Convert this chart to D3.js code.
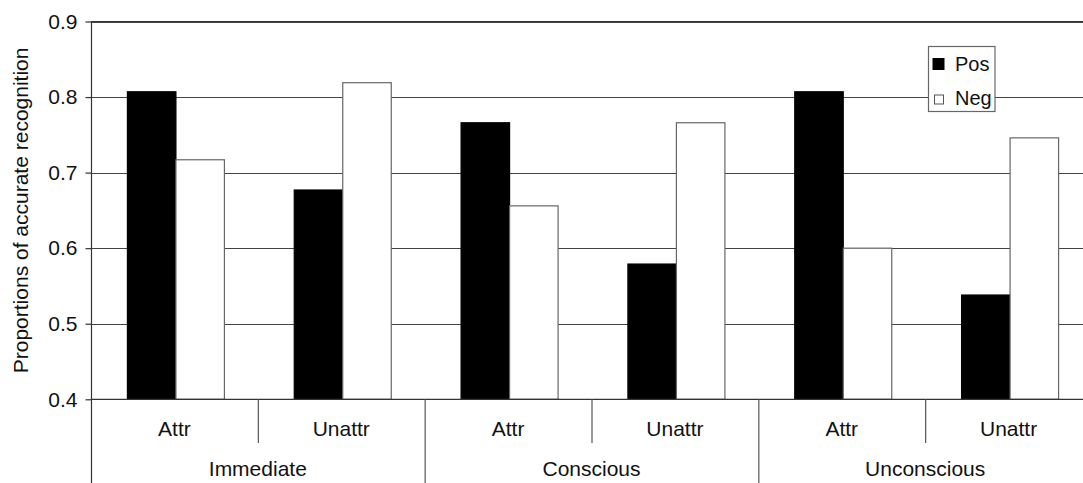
<!DOCTYPE html>
<html>
<head>
<meta charset="utf-8">
<script src="https://cdn.jsdelivr.net/npm/d3@7"></script>
<style>
  html, body { margin: 0; padding: 0; background: #fff; }
  svg { display: block; font-family: "Liberation Sans", Arial, sans-serif; }
</style>
</head>
<body>
<svg id="chart" width="1083" height="483"></svg>
<script>
// ---- data ----
const groups = ["Immediate", "Conscious", "Unconscious"];
const subcats = ["Attr", "Unattr"];
const seriesNames = ["Pos", "Neg"];
const posValues = [0.807, 0.677, 0.766, 0.579, 0.807, 0.538];
const negValues = [0.717, 0.819, 0.656, 0.766, 0.600, 0.746];
const yTicks = [0.4, 0.5, 0.6, 0.7, 0.8, 0.9];
const yTitle = "Proportions of accurate recognition";

(function () {
// ---- layout ----
const svg = d3.select("#chart");
const pLeft = 91, pRight = 1092, pTop = 21.5, pBottom = 399.3;
const fontSize = 21;

const cats = [];
groups.forEach(g => subcats.forEach(s => cats.push({ group: g, sub: s, key: g + "|" + s })));
cats.forEach((c, i) => { c.Pos = posValues[i]; c.Neg = negValues[i]; });

const x0 = d3.scaleBand().domain(cats.map(c => c.key)).range([pLeft, pRight]).padding(0);
const x1 = d3.scaleBand().domain(seriesNames)
  .range([1.5, x0.bandwidth() + 1.5]).paddingInner(0).paddingOuter(0.72);
const y = d3.scaleLinear().domain([0.4, 0.9]).range([pBottom, pTop]);
const color = { Pos: "#000", Neg: "#fff" };
const strokeC = { Pos: "#000", Neg: "#666" };

// gridlines (behind bars)
svg.append("g")
  .selectAll("line").data(yTicks.filter(t => t > 0.4))
  .join("line")
  .attr("x1", pLeft).attr("x2", pRight)
  .attr("y1", d => Math.round(y(d)) + 0.5).attr("y2", d => Math.round(y(d)) + 0.5)
  .attr("stroke", "#444").attr("stroke-width", 1.2);

// bars
const barG = svg.append("g");
cats.forEach(c => {
  barG.selectAll(null).data(seriesNames.map(s => ({ s, v: c[s] })))
    .join("rect")
    .attr("x", d => x0(c.key) + x1(d.s))
    .attr("y", d => y(d.v))
    .attr("width", x1.bandwidth())
    .attr("height", d => pBottom - y(d.v))
    .attr("fill", d => color[d.s])
    .attr("stroke", d => strokeC[d.s])
    .attr("stroke-width", 1.2);
});

// y axis
const yAxis = d3.axisLeft(y).tickValues(yTicks).tickSize(6).tickPadding(8)
  .tickFormat(d3.format(".1f"));
const yg = svg.append("g").attr("transform", `translate(${pLeft + 0.5},0)`).call(yAxis);
yg.select(".domain").remove();
yg.selectAll(".tick line").attr("stroke", "#333").attr("stroke-width", 1.2);
yg.selectAll(".tick text").attr("font-size", fontSize).attr("fill", "#111")
  .attr("font-family", "Liberation Sans, Arial, sans-serif");

// axis lines
svg.append("line").attr("x1", pLeft + 0.5).attr("x2", pLeft + 0.5).attr("y1", pTop).attr("y2", 483)
  .attr("stroke", "#333").attr("stroke-width", 1.2);
svg.append("line").attr("x1", pLeft).attr("x2", pRight).attr("y1", pTop).attr("y2", pTop)
  .attr("stroke", "#333").attr("stroke-width", 1.2);
svg.append("line").attr("x1", pLeft).attr("x2", pRight).attr("y1", pBottom).attr("y2", pBottom)
  .attr("stroke", "#333").attr("stroke-width", 1.2);

// x axis: sub-category labels and separators
const xg = svg.append("g");
cats.forEach((c, i) => {
  xg.append("text")
    .attr("x", x0(c.key) + x0.bandwidth() / 2)
    .attr("y", 436)
    .attr("text-anchor", "middle")
    .attr("font-size", fontSize).attr("fill", "#111")
    .text(c.sub);
  if (i > 0) {
    const isGroupEdge = i % subcats.length === 0;
    xg.append("line")
      .attr("x1", x0(c.key) + 0.5).attr("x2", x0(c.key) + 0.5)
      .attr("y1", pBottom).attr("y2", isGroupEdge ? 483 : 443)
      .attr("stroke", "#555").attr("stroke-width", 1.2);
  }
});
groups.forEach(g => {
  const first = x0(g + "|" + subcats[0]);
  const last = x0(g + "|" + subcats[subcats.length - 1]) + x0.bandwidth();
  xg.append("text")
    .attr("x", (first + last) / 2)
    .attr("y", 476)
    .attr("text-anchor", "middle")
    .attr("font-size", fontSize).attr("fill", "#111")
    .text(g);
});

// y title
svg.append("text")
  .attr("transform", `translate(28,${(pTop + pBottom) / 2}) rotate(-90)`)
  .attr("text-anchor", "middle")
  .attr("font-size", fontSize).attr("fill", "#111")
  .text(yTitle);

// legend
const lg = svg.append("g").attr("transform", "translate(928.5,46.5)");
lg.append("rect").attr("width", 66.5).attr("height", 65)
  .attr("fill", "#fff").attr("stroke", "#666").attr("stroke-width", 1.2);
seriesNames.forEach((s, i) => {
  const row = lg.append("g").attr("transform", `translate(0,${i * 33})`);
  if (s === "Pos") {
    row.append("rect").attr("x", 4).attr("y", 11.5).attr("width", 12).attr("height", 12).attr("fill", "#000");
  } else {
    row.append("rect").attr("x", 6).attr("y", 15.5).attr("width", 9).attr("height", 9)
      .attr("fill", "#fff").attr("stroke", "#555").attr("stroke-width", 1);
  }
  row.append("text").attr("x", 26.5).attr("y", i === 0 ? 24.5 : 25.5)
    .attr("font-size", 20).attr("fill", "#111").text(s);
});
})();
</script>
</body>
</html>
